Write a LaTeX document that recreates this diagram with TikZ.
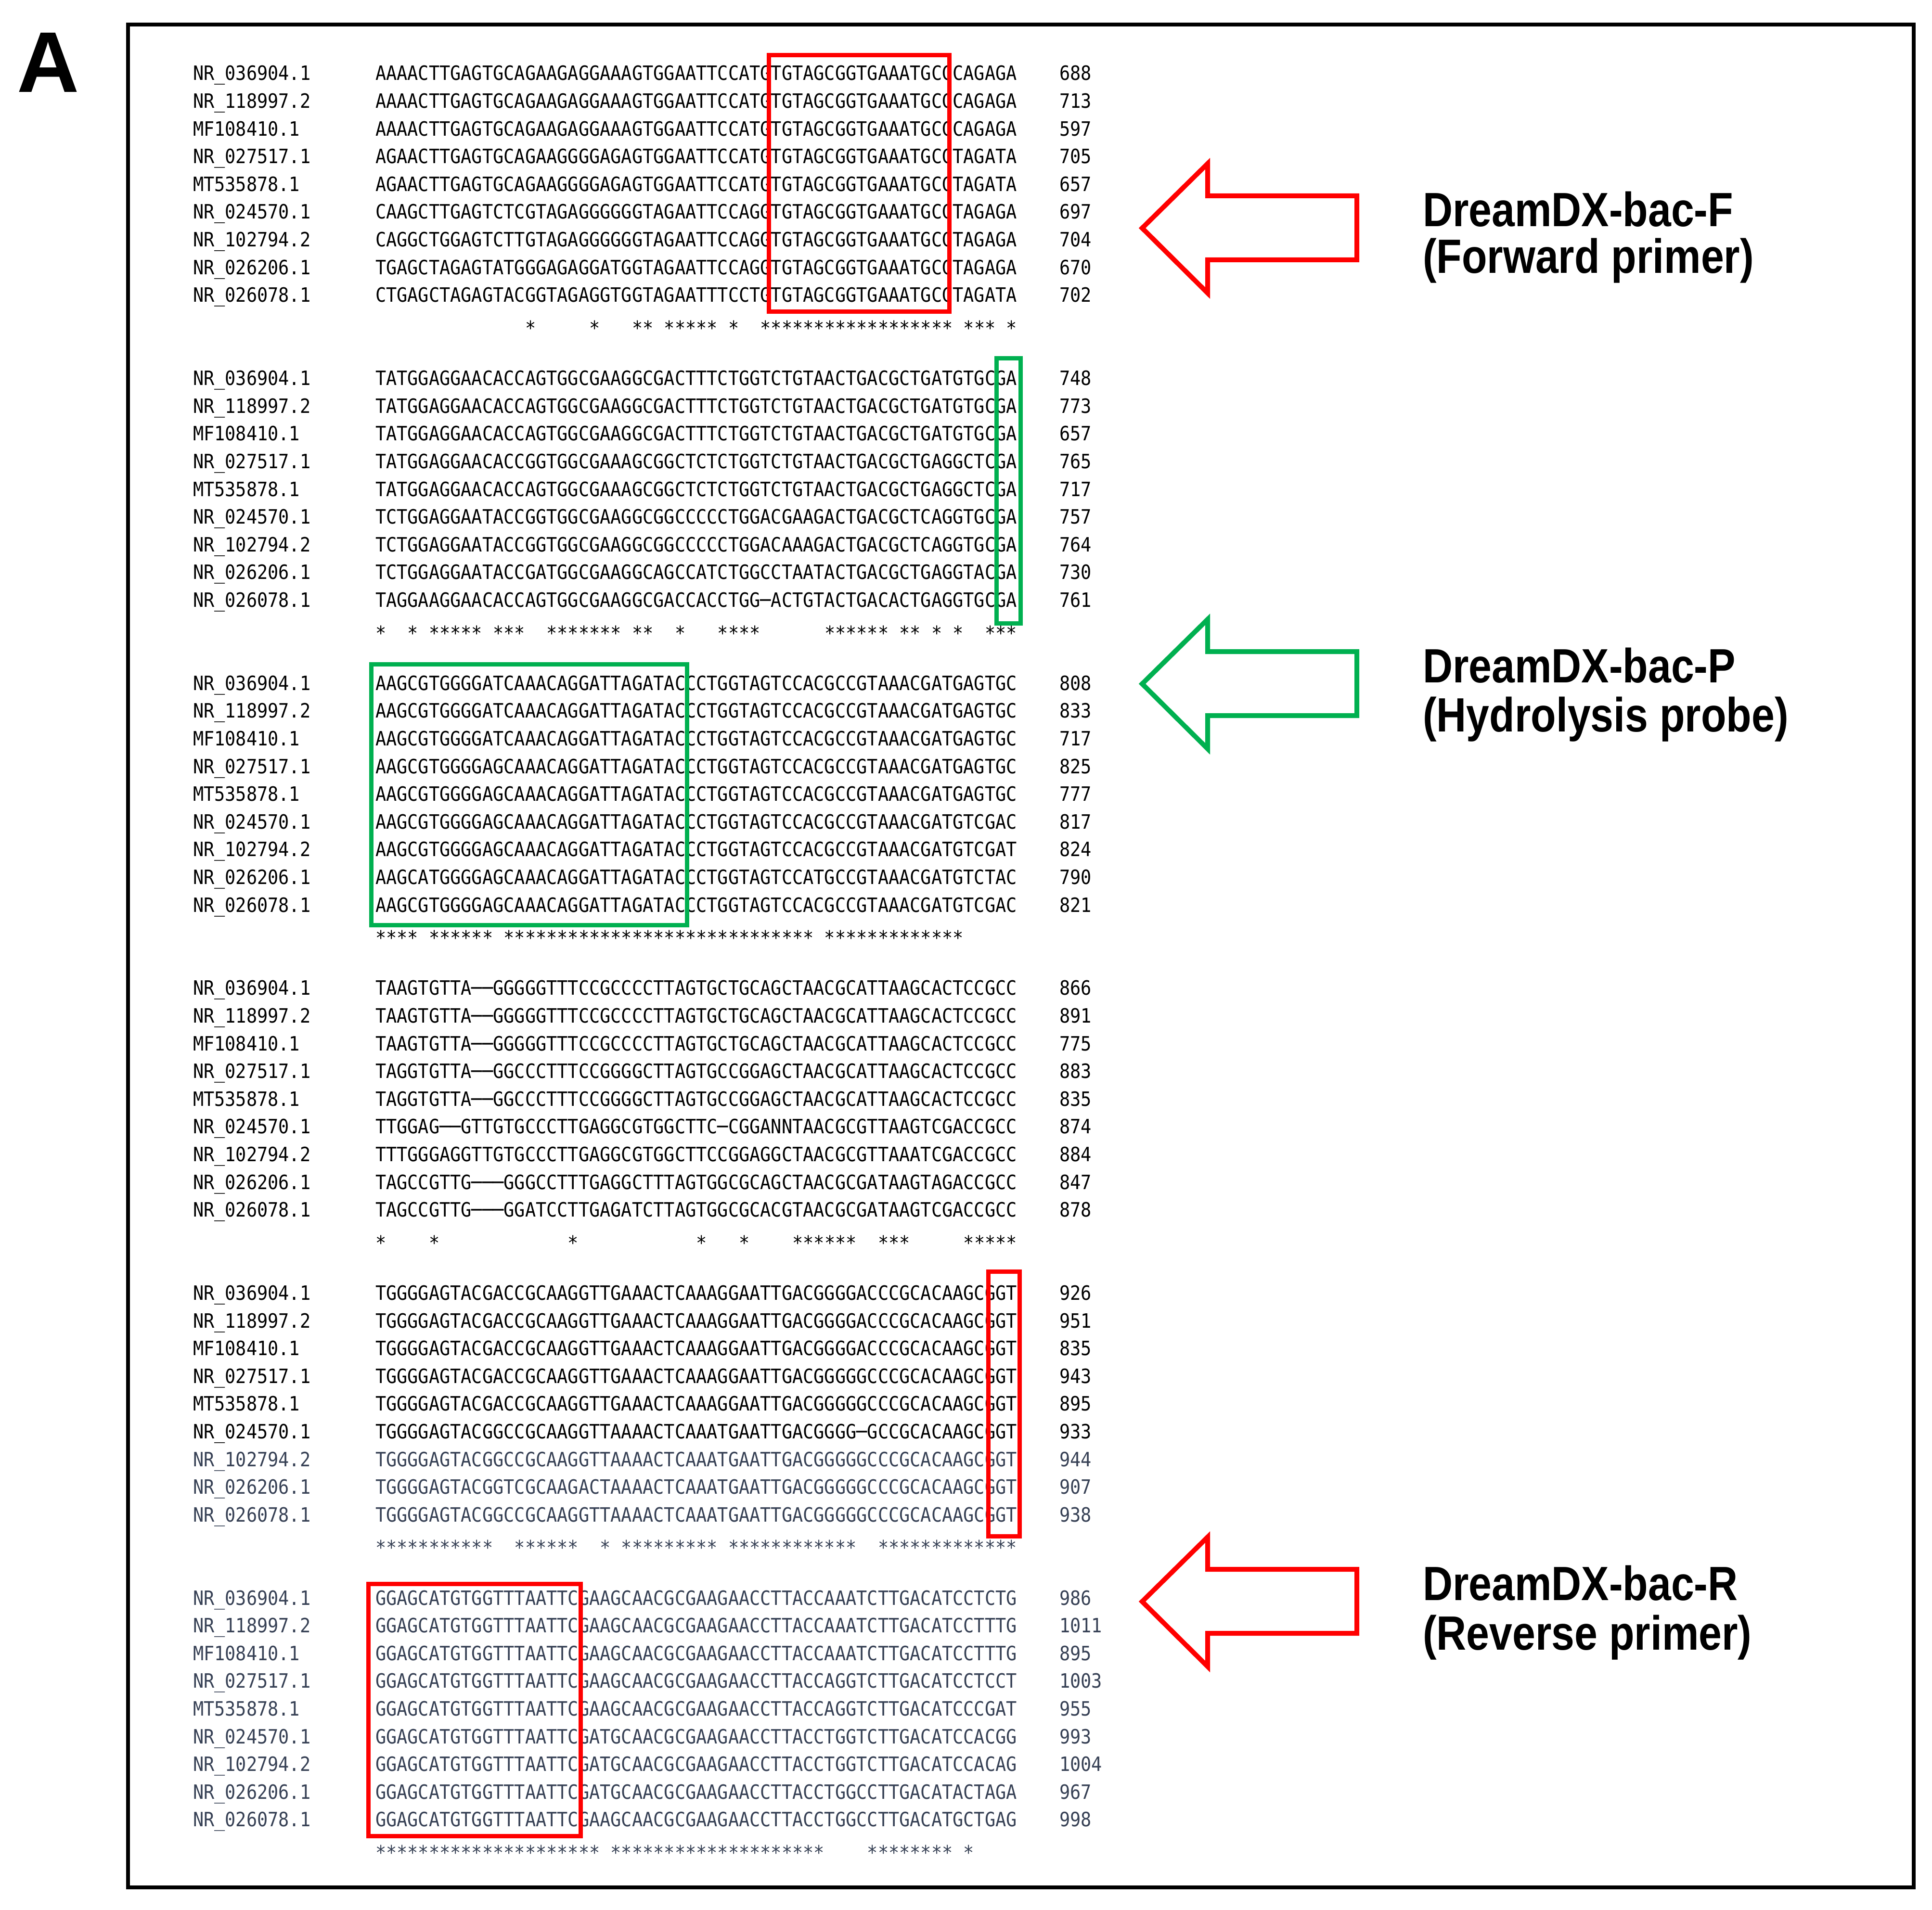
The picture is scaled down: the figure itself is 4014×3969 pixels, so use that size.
\documentclass[tikz,border=0pt]{standalone}
\usepackage{fontspec}
\setmainfont{Liberation Sans}
\newfontfamily\seqfont[FakeStretch=0.9]{DejaVu Sans Mono}
\newfontfamily\labfont[FakeStretch=0.86]{Liberation Sans}
\definecolor{boxred}{RGB}{255,0,0}
\definecolor{boxgreen}{RGB}{0,176,80}
\definecolor{altcol}{RGB}{55,65,85}
\def\stars#1{\starsi#1\relax}
\def\starsi#1{\ifx#1\relax\else\ifx#1.\hphantom{*}\else*\fi\expandafter\starsi\fi}
\newcommand\srow[6]{%
  \node[seqtxt,#6] (lab#1) at (400,{167+57.6*#2}) {#3};
  \node[seqtxt,#6] (seq#1) at (779,{167+57.6*#2}) {#4};
  \node[seqtxt,#6] (num#1) at (2200,{167+57.6*#2}) {#5};}
\newcommand\crow[3]{%
  \node[seqtxt,#3] (cons#1) at (779,{167+57.6*#2+11}) {\stars{#1}};}
\newcommand\consrow[4]{%
  \node[seqtxt,#4] (cons#1) at (779,{167+57.6*#2+11}) {\stars{#3}};}
\begin{document}
\begin{tikzpicture}[x=0.2pt,y=-0.2pt,
  seqtxt/.style={font=\seqfont\fontsize{8.2pt}{8.2pt}\selectfont, inner sep=0pt, anchor=base west, text=black},
  alt/.style={text=altcol},
  lbl/.style={font=\labfont\bfseries\fontsize{20pt}{24pt}\selectfont, inner sep=0pt, anchor=base west},
  redbox/.style={draw=boxred, line width=1.8pt},
  greenbox/.style={draw=boxgreen, line width=1.8pt},
  redarrow/.style={draw=boxred, line width=2pt, line join=miter},
  greenarrow/.style={draw=boxgreen, line width=2pt, line join=miter}]
\useasboundingbox (0,0) rectangle (4014,3969);
\fill[white] (0,0) rectangle (4014,3969);
\node[font=\fontsize{35.8pt}{36pt}\selectfont\bfseries, anchor=base west, inner sep=0pt] (panelA) at (34,192) {A};
\draw[line width=1.6pt] (266,51) rectangle (3976,3922);

% Block 1
\srow{a1}{0}{NR\_036904.1}{AAAACTTGAGTGCAGAAGAGGAAAGTGGAATTCCATGTGTAGCGGTGAAATGCGCAGAGA}{688}{}
\srow{a2}{1}{NR\_118997.2}{AAAACTTGAGTGCAGAAGAGGAAAGTGGAATTCCATGTGTAGCGGTGAAATGCGCAGAGA}{713}{}
\srow{a3}{2}{MF108410.1}{AAAACTTGAGTGCAGAAGAGGAAAGTGGAATTCCATGTGTAGCGGTGAAATGCGCAGAGA}{597}{}
\srow{a4}{3}{NR\_027517.1}{AGAACTTGAGTGCAGAAGGGGAGAGTGGAATTCCATGTGTAGCGGTGAAATGCGTAGATA}{705}{}
\srow{a5}{4}{MT535878.1}{AGAACTTGAGTGCAGAAGGGGAGAGTGGAATTCCATGTGTAGCGGTGAAATGCGTAGATA}{657}{}
\srow{a6}{5}{NR\_024570.1}{CAAGCTTGAGTCTCGTAGAGGGGGGTAGAATTCCAGGTGTAGCGGTGAAATGCGTAGAGA}{697}{}
\srow{a7}{6}{NR\_102794.2}{CAGGCTGGAGTCTTGTAGAGGGGGGTAGAATTCCAGGTGTAGCGGTGAAATGCGTAGAGA}{704}{}
\srow{a8}{7}{NR\_026206.1}{TGAGCTAGAGTATGGGAGAGGATGGTAGAATTCCAGGTGTAGCGGTGAAATGCGTAGAGA}{670}{}
\srow{a9}{8}{NR\_026078.1}{CTGAGCTAGAGTACGGTAGAGGTGGTAGAATTTCCTGTGTAGCGGTGAAATGCGTAGATA}{702}{}
\consrow{a}{9}{..............*.....*...**.*****.*..******************.***.*}{}

% Block 2
\srow{b1}{11}{NR\_036904.1}{TATGGAGGAACACCAGTGGCGAAGGCGACTTTCTGGTCTGTAACTGACGCTGATGTGCGA}{748}{}
\srow{b2}{12}{NR\_118997.2}{TATGGAGGAACACCAGTGGCGAAGGCGACTTTCTGGTCTGTAACTGACGCTGATGTGCGA}{773}{}
\srow{b3}{13}{MF108410.1}{TATGGAGGAACACCAGTGGCGAAGGCGACTTTCTGGTCTGTAACTGACGCTGATGTGCGA}{657}{}
\srow{b4}{14}{NR\_027517.1}{TATGGAGGAACACCGGTGGCGAAAGCGGCTCTCTGGTCTGTAACTGACGCTGAGGCTCGA}{765}{}
\srow{b5}{15}{MT535878.1}{TATGGAGGAACACCAGTGGCGAAAGCGGCTCTCTGGTCTGTAACTGACGCTGAGGCTCGA}{717}{}
\srow{b6}{16}{NR\_024570.1}{TCTGGAGGAATACCGGTGGCGAAGGCGGCCCCCTGGACGAAGACTGACGCTCAGGTGCGA}{757}{}
\srow{b7}{17}{NR\_102794.2}{TCTGGAGGAATACCGGTGGCGAAGGCGGCCCCCTGGACAAAGACTGACGCTCAGGTGCGA}{764}{}
\srow{b8}{18}{NR\_026206.1}{TCTGGAGGAATACCGATGGCGAAGGCAGCCATCTGGCCTAATACTGACGCTGAGGTACGA}{730}{}
\srow{b9}{19}{NR\_026078.1}{TAGGAAGGAACACCAGTGGCGAAGGCGACCACCTGG─ACTGTACTGACACTGAGGTGCGA}{761}{}
\consrow{b}{20}{*..*.*****.***..*******.**..*...****......******.**.*.*..***}{}

% Block 3
\srow{c1}{22}{NR\_036904.1}{AAGCGTGGGGATCAAACAGGATTAGATACCCTGGTAGTCCACGCCGTAAACGATGAGTGC}{808}{}
\srow{c2}{23}{NR\_118997.2}{AAGCGTGGGGATCAAACAGGATTAGATACCCTGGTAGTCCACGCCGTAAACGATGAGTGC}{833}{}
\srow{c3}{24}{MF108410.1}{AAGCGTGGGGATCAAACAGGATTAGATACCCTGGTAGTCCACGCCGTAAACGATGAGTGC}{717}{}
\srow{c4}{25}{NR\_027517.1}{AAGCGTGGGGAGCAAACAGGATTAGATACCCTGGTAGTCCACGCCGTAAACGATGAGTGC}{825}{}
\srow{c5}{26}{MT535878.1}{AAGCGTGGGGAGCAAACAGGATTAGATACCCTGGTAGTCCACGCCGTAAACGATGAGTGC}{777}{}
\srow{c6}{27}{NR\_024570.1}{AAGCGTGGGGAGCAAACAGGATTAGATACCCTGGTAGTCCACGCCGTAAACGATGTCGAC}{817}{}
\srow{c7}{28}{NR\_102794.2}{AAGCGTGGGGAGCAAACAGGATTAGATACCCTGGTAGTCCACGCCGTAAACGATGTCGAT}{824}{}
\srow{c8}{29}{NR\_026206.1}{AAGCATGGGGAGCAAACAGGATTAGATACCCTGGTAGTCCATGCCGTAAACGATGTCTAC}{790}{}
\srow{c9}{30}{NR\_026078.1}{AAGCGTGGGGAGCAAACAGGATTAGATACCCTGGTAGTCCACGCCGTAAACGATGTCGAC}{821}{}
\consrow{c}{31}{****.******.*****************************.*************.....}{}

% Block 4
\srow{d1}{33}{NR\_036904.1}{TAAGTGTTA──GGGGGTTTCCGCCCCTTAGTGCTGCAGCTAACGCATTAAGCACTCCGCC}{866}{}
\srow{d2}{34}{NR\_118997.2}{TAAGTGTTA──GGGGGTTTCCGCCCCTTAGTGCTGCAGCTAACGCATTAAGCACTCCGCC}{891}{}
\srow{d3}{35}{MF108410.1}{TAAGTGTTA──GGGGGTTTCCGCCCCTTAGTGCTGCAGCTAACGCATTAAGCACTCCGCC}{775}{}
\srow{d4}{36}{NR\_027517.1}{TAGGTGTTA──GGCCCTTTCCGGGGCTTAGTGCCGGAGCTAACGCATTAAGCACTCCGCC}{883}{}
\srow{d5}{37}{MT535878.1}{TAGGTGTTA──GGCCCTTTCCGGGGCTTAGTGCCGGAGCTAACGCATTAAGCACTCCGCC}{835}{}
\srow{d6}{38}{NR\_024570.1}{TTGGAG──GTTGTGCCCTTGAGGCGTGGCTTC─CGGANNTAACGCGTTAAGTCGACCGCC}{874}{}
\srow{d7}{39}{NR\_102794.2}{TTTGGGAGGTTGTGCCCTTGAGGCGTGGCTTCCGGAGGCTAACGCGTTAAATCGACCGCC}{884}{}
\srow{d8}{40}{NR\_026206.1}{TAGCCGTTG───GGGCCTTTGAGGCTTTAGTGGCGCAGCTAACGCGATAAGTAGACCGCC}{847}{}
\srow{d9}{41}{NR\_026078.1}{TAGCCGTTG───GGATCCTTGAGATCTTAGTGGCGCACGTAACGCGATAAGTCGACCGCC}{878}{}
\consrow{d}{42}{*....*............*...........*...*....******..***.....*****}{}

% Block 5
\srow{e1}{44}{NR\_036904.1}{TGGGGAGTACGACCGCAAGGTTGAAACTCAAAGGAATTGACGGGGACCCGCACAAGCGGT}{926}{}
\srow{e2}{45}{NR\_118997.2}{TGGGGAGTACGACCGCAAGGTTGAAACTCAAAGGAATTGACGGGGACCCGCACAAGCGGT}{951}{}
\srow{e3}{46}{MF108410.1}{TGGGGAGTACGACCGCAAGGTTGAAACTCAAAGGAATTGACGGGGACCCGCACAAGCGGT}{835}{}
\srow{e4}{47}{NR\_027517.1}{TGGGGAGTACGACCGCAAGGTTGAAACTCAAAGGAATTGACGGGGGCCCGCACAAGCGGT}{943}{}
\srow{e5}{48}{MT535878.1}{TGGGGAGTACGACCGCAAGGTTGAAACTCAAAGGAATTGACGGGGGCCCGCACAAGCGGT}{895}{}
\srow{e6}{49}{NR\_024570.1}{TGGGGAGTACGGCCGCAAGGTTAAAACTCAAATGAATTGACGGGG─GCCGCACAAGCGGT}{933}{}
\srow{e7}{50}{NR\_102794.2}{TGGGGAGTACGGCCGCAAGGTTAAAACTCAAATGAATTGACGGGGGCCCGCACAAGCGGT}{944}{alt}
\srow{e8}{51}{NR\_026206.1}{TGGGGAGTACGGTCGCAAGACTAAAACTCAAATGAATTGACGGGGGCCCGCACAAGCGGT}{907}{alt}
\srow{e9}{52}{NR\_026078.1}{TGGGGAGTACGGCCGCAAGGTTAAAACTCAAATGAATTGACGGGGGCCCGCACAAGCGGT}{938}{alt}
\consrow{e}{53}{***********..******..*.*********.************..*************}{alt}

% Block 6
\srow{f1}{55}{NR\_036904.1}{GGAGCATGTGGTTTAATTCGAAGCAACGCGAAGAACCTTACCAAATCTTGACATCCTCTG}{986}{alt}
\srow{f2}{56}{NR\_118997.2}{GGAGCATGTGGTTTAATTCGAAGCAACGCGAAGAACCTTACCAAATCTTGACATCCTTTG}{1011}{alt}
\srow{f3}{57}{MF108410.1}{GGAGCATGTGGTTTAATTCGAAGCAACGCGAAGAACCTTACCAAATCTTGACATCCTTTG}{895}{alt}
\srow{f4}{58}{NR\_027517.1}{GGAGCATGTGGTTTAATTCGAAGCAACGCGAAGAACCTTACCAGGTCTTGACATCCTCCT}{1003}{alt}
\srow{f5}{59}{MT535878.1}{GGAGCATGTGGTTTAATTCGAAGCAACGCGAAGAACCTTACCAGGTCTTGACATCCCGAT}{955}{alt}
\srow{f6}{60}{NR\_024570.1}{GGAGCATGTGGTTTAATTCGATGCAACGCGAAGAACCTTACCTGGTCTTGACATCCACGG}{993}{alt}
\srow{f7}{61}{NR\_102794.2}{GGAGCATGTGGTTTAATTCGATGCAACGCGAAGAACCTTACCTGGTCTTGACATCCACAG}{1004}{alt}
\srow{f8}{62}{NR\_026206.1}{GGAGCATGTGGTTTAATTCGATGCAACGCGAAGAACCTTACCTGGCCTTGACATACTAGA}{967}{alt}
\srow{f9}{63}{NR\_026078.1}{GGAGCATGTGGTTTAATTCGAAGCAACGCGAAGAACCTTACCTGGCCTTGACATGCTGAG}{998}{alt}
\consrow{f}{64}{*********************.********************....********.*....}{alt}

% primer / probe boxes
\draw[redbox] (1597,115) rectangle (1972,648);
\draw[greenbox] (2070,745) rectangle (2120,1295);
\draw[greenbox] (771,1380) rectangle (1427,1922);
\draw[redbox] (2053,2642) rectangle (2118,3192);
\draw[redbox] (765,3291) rectangle (1206,3815);

% arrows
\draw[redarrow] (2373,474) -- (2509,340) -- (2509,407) -- (2819,407) -- (2819,540) -- (2509,540) -- (2509,609) -- cycle;
\draw[greenarrow] (2373,1421) -- (2509,1287) -- (2509,1354) -- (2819,1354) -- (2819,1487) -- (2509,1487) -- (2509,1556) -- cycle;
\draw[redarrow] (2373,3328) -- (2509,3194) -- (2509,3261) -- (2819,3261) -- (2819,3394) -- (2509,3394) -- (2509,3463) -- cycle;

% labels
\node[lbl] (fname) at (2955,471) {DreamDX-bac-F};
\node[lbl] (fdesc) at (2955,568) {(Forward primer)};
\node[lbl] (pname) at (2955,1418) {DreamDX-bac-P};
\node[lbl] (pdesc) at (2955,1520) {(Hydrolysis probe)};
\node[lbl] (rname) at (2955,3325) {DreamDX-bac-R};
\node[lbl] (rdesc) at (2955,3428) {(Reverse primer)};
\end{tikzpicture}
\end{document}
